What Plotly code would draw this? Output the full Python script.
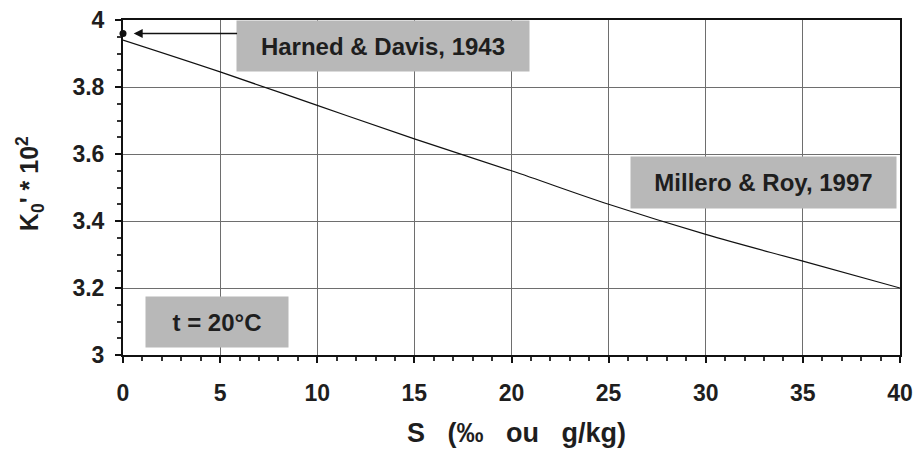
import plotly.graph_objects as go

# Data
salinity = [0, 5, 10, 15, 20, 25, 30, 35, 40]
k0_millero = [3.94, 3.845, 3.745, 3.645, 3.55, 3.45, 3.36, 3.28, 3.20]
harned_x = [0]
harned_y = [3.96]
x_ticks = [0, 5, 10, 15, 20, 25, 30, 35, 40]
y_ticks = [3, 3.2, 3.4, 3.6, 3.8, 4]
y_tick_labels = ["3", "3.2", "3.4", "3.6", "3.8", "4"]

FONT = "Liberation Sans, Arial, sans-serif"
BOX = "#b8b8b8"
TXT = "#1e1e1e"

fig = go.Figure()
fig.add_trace(go.Scatter(x=salinity, y=k0_millero, mode="lines",
                         line=dict(color="#111", width=1.2, shape="spline"),
                         showlegend=False))
fig.add_trace(go.Scatter(x=harned_x, y=harned_y, mode="markers",
                         marker=dict(color="#111", size=7),
                         showlegend=False, cliponaxis=False))

axis_common = dict(showline=True, linecolor="#111", linewidth=2, mirror=True,
                   showgrid=True, gridcolor="#6e6e6e", gridwidth=1,
                   zeroline=False, ticks="outside", ticklen=6, tickwidth=1.5,
                   tickcolor="#111", automargin=False,
                   tickfont=dict(family=FONT, size=23, color=TXT, weight="bold"))

fig.update_xaxes(range=[0, 40], tickvals=x_ticks, ticklabelstandoff=10,
                 minor=dict(dtick=1, ticks="outside", ticklen=4, tickcolor="#333", showgrid=False),
                 **axis_common)
fig.update_yaxes(range=[3, 4], tickvals=y_ticks, ticktext=y_tick_labels, ticklabelstandoff=6,
                 minor=dict(dtick=0.05, ticks="outside", ticklen=4, tickcolor="#333", showgrid=False),
                 **axis_common)

# Axis titles placed as annotations
fig.add_annotation(xref="paper", yref="paper", x=0.506, y=-0.233,
                   text="S\u00a0\u00a0\u00a0(‰\u00a0\u00a0\u00a0ou\u00a0\u00a0\u00a0g/kg)",
                   showarrow=False, xanchor="center", yanchor="middle",
                   font=dict(family=FONT, size=27, color=TXT, weight="bold"))
fig.add_annotation(xref="paper", yref="paper", x=-0.1197, y=0.513,
                   text="K<sub>0</sub>' * 10<sup>2</sup>", textangle=-90,
                   showarrow=False, xanchor="center", yanchor="middle",
                   font=dict(family=FONT, size=25, color=TXT, weight="bold"))

ann_font = dict(family=FONT, size=24, color=TXT, weight="bold")
fig.add_annotation(x=13.38, y=3.922, xref="x", yref="y", text="Harned & Davis, 1943",
                   showarrow=False, bgcolor=BOX, width=290, height=48, font=ann_font)
fig.add_annotation(x=32.95, y=3.516, xref="x", yref="y", text="Millero & Roy, 1997",
                   showarrow=False, bgcolor=BOX, width=263, height=49, font=ann_font)
fig.add_annotation(x=4.84, y=3.0985, xref="x", yref="y", text="t = 20°C",
                   showarrow=False, bgcolor=BOX, width=140, height=48, font=ann_font)
fig.add_annotation(x=0.55, y=3.96, ax=5.95, ay=3.96, xref="x", yref="y",
                   axref="x", ayref="y", text="", showarrow=True,
                   arrowhead=2, arrowsize=1.2, arrowwidth=1.5, arrowcolor="#111")

fig.update_layout(width=920, height=450, margin=dict(l=123, r=20, t=20, b=95),
                  plot_bgcolor="white", paper_bgcolor="white")

fig.write_html("out.html")
